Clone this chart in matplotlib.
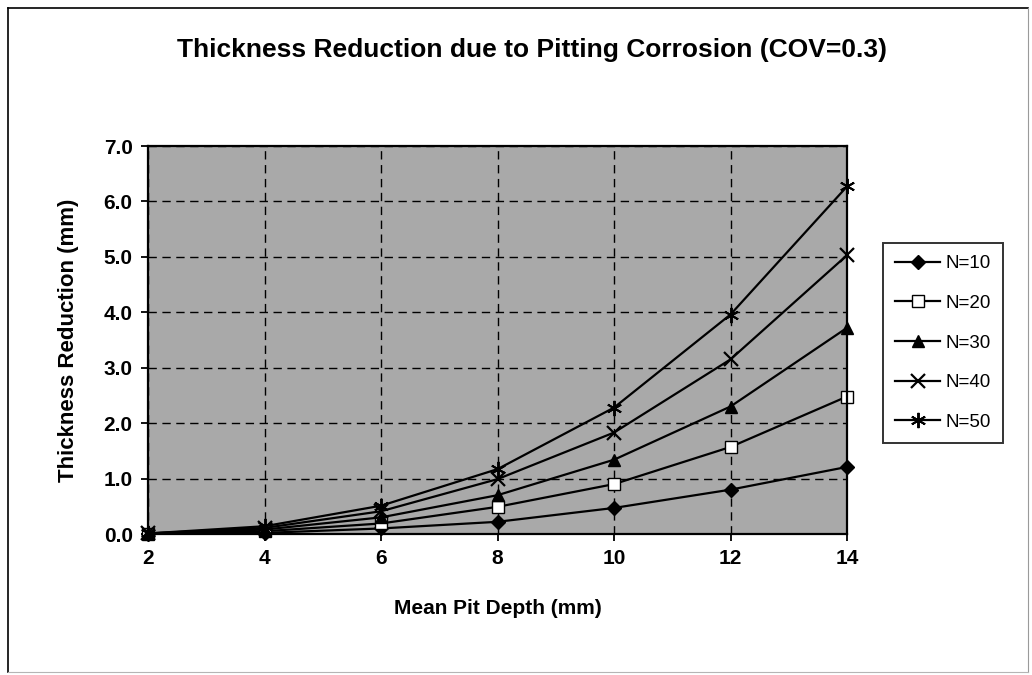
import matplotlib
matplotlib.use("Agg")
import matplotlib.pyplot as plt
from matplotlib.lines import Line2D

plt.rcParams['font.family'] = ['Liberation Sans', 'DejaVu Sans']

depth = [2, 4, 6, 8, 10, 12, 14]
n10 = [0.00, 0.02, 0.10, 0.22, 0.47, 0.80, 1.21]
n20 = [0.00, 0.05, 0.19, 0.49, 0.90, 1.57, 2.48]
n30 = [0.01, 0.08, 0.30, 0.70, 1.34, 2.30, 3.72]
n40 = [0.01, 0.11, 0.41, 0.99, 1.83, 3.15, 5.03]
n50 = [0.01, 0.14, 0.51, 1.17, 2.28, 3.96, 6.27]
labels = ['N=10', 'N=20', 'N=30', 'N=40', 'N=50']
yticks = [0.0, 1.0, 2.0, 3.0, 4.0, 5.0, 6.0, 7.0]
xticks = [2, 4, 6, 8, 10, 12, 14]

W, H = 1032, 675
fig = plt.figure(figsize=(W / 100, H / 100), dpi=100)

def px(x, y):
    return x / W, 1 - y / H

# outer frame of the chart sheet
for (x0, y0), (x1, y1), c, lw in [
    ((8, 8), (8, 672), 'black', 1.2),
    ((8, 8), (1028, 8), 'black', 1.2),
    ((1028, 8), (1028, 672), '#9a9a9a', 0.8),
    ((8, 672), (1028, 672), '#b5b5b5', 0.8),
]:
    a, b = px(x0, y0), px(x1, y1)
    fig.add_artist(Line2D([a[0], b[0]], [a[1], b[1]], color=c, linewidth=lw,
                          transform=fig.transFigure))

ax = fig.add_axes([148 / W, 1 - 534 / H, (847 - 148) / W, (534 - 146) / H])
ax.set_facecolor('#a9a9a9')

styles = [
    dict(marker='D', markersize=7, markerfacecolor='black', markeredgecolor='black'),
    dict(marker='s', markersize=9, markerfacecolor='white', markeredgecolor='black'),
    dict(marker='^', markersize=9, markerfacecolor='black', markeredgecolor='black'),
    dict(marker='x', markersize=10, markeredgewidth=1.6, markeredgecolor='black'),
    dict(marker=(6, 2, 0), markersize=11, markeredgewidth=1.4, markeredgecolor='black'),
]
series = [n10, n20, n30, n40, n50]
for vals, lab, st in zip(series, labels, styles):
    ax.plot(depth, vals, color='black', linewidth=1.6, label=lab, clip_on=False, **st)

ax.set_xlim(2, 14)
ax.set_ylim(0, 7)
ax.set_xticks(xticks)
ax.set_yticks(yticks)
ax.set_yticklabels([f'{v:.1f}' for v in yticks])
ax.grid(True, color='black', linestyle=(0, (6, 4)), linewidth=1.0)
ax.set_axisbelow(True)
for s in ax.spines.values():
    s.set_linewidth(1.6)
ax.tick_params(axis='both', labelsize=15, width=1.3, length=5, direction='out')
ax.tick_params(axis='x', pad=6)
ax.tick_params(axis='y', pad=6)
for t in ax.get_xticklabels() + ax.get_yticklabels():
    t.set_fontweight('bold')

ax.set_xlabel('Mean Pit Depth (mm)', fontsize=15, fontweight='bold', labelpad=22)
ax.set_ylabel('Thickness Reduction (mm)', fontsize=16, fontweight='bold', labelpad=18)
fig.text(532 / W, 1 - 50 / H, 'Thickness Reduction due to Pitting Corrosion (COV=0.3)',
         ha='center', va='center', fontsize=19, fontweight='bold')

leg = fig.legend(loc='upper left', bbox_to_anchor=(883 / W, 1 - 243 / H),
                 frameon=True, fancybox=False, edgecolor='black', fontsize=13.5,
                 handlelength=2.4, labelspacing=1.2, borderpad=0.65, handletextpad=0.3,
                 borderaxespad=0)
leg.get_frame().set_linewidth(1.4)

fig.savefig('out.png', dpi=100, facecolor='white')
